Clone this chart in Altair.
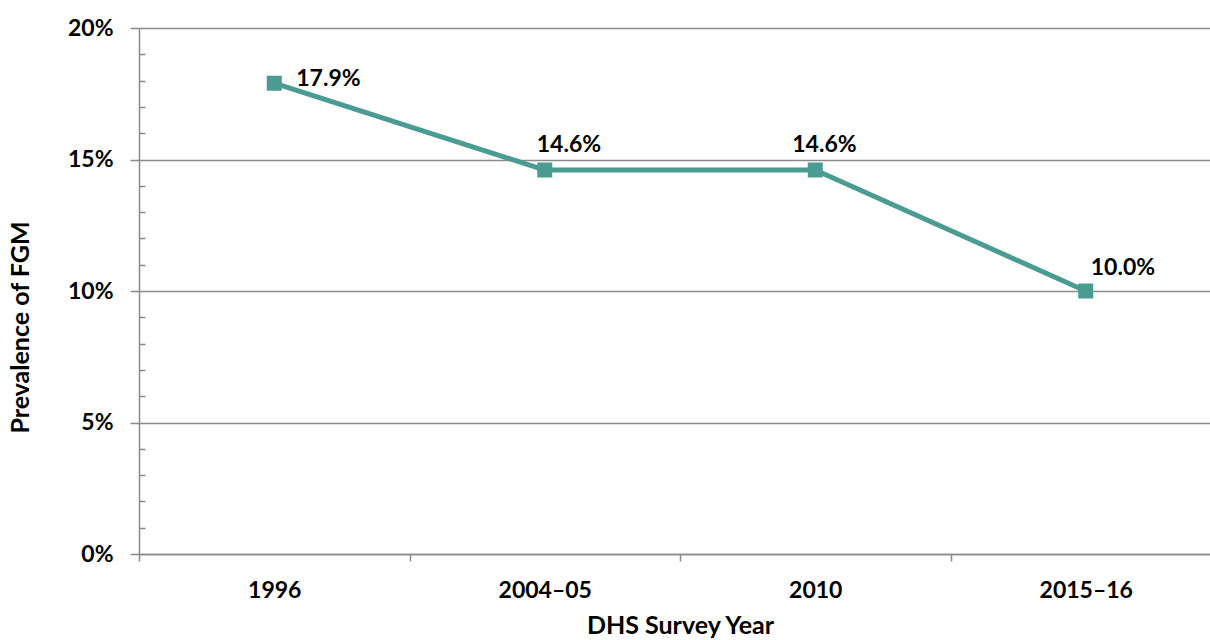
import altair as alt
import pandas as pd

# DHS survey rounds and FGM prevalence
years = ["1996", "2004–05", "2010", "2015–16"]
prevalence = [0.179, 0.146, 0.146, 0.100]
labels = ["17.9%", "14.6%", "14.6%", "10.0%"]

# y axis ticks
major_ticks = [0.0, 0.05, 0.10, 0.15, 0.20]
minor_ticks = [0.01, 0.02, 0.03, 0.04, 0.06, 0.07, 0.08, 0.09,
               0.11, 0.12, 0.13, 0.14, 0.16, 0.17, 0.18, 0.19]

df = pd.DataFrame({"year": years, "value": prevalence, "label": labels})

TEAL = "#4A9B92"
GRAY = "#8A8A8A"
FONT = "Lato"
LABEL_SIZE = 23
TITLE_SIZE = 25

x_enc = alt.X(
    "year:N",
    sort=years,
    scale=alt.Scale(range=[0, 1082], paddingInner=0, paddingOuter=0),
    axis=alt.Axis(
        title="DHS Survey Year",
        labelAngle=0,
        tickBand="extent",
        tickSize=7,
        tickColor=GRAY,
        tickWidth=1.5,
        domainColor=GRAY,
        domainWidth=1.5,
        labelPadding=18,
        labelFont=FONT,
        labelFontSize=LABEL_SIZE,
        labelFontWeight="bold",
        labelColor="black",
        titleFont=FONT,
        titleFontSize=TITLE_SIZE,
        titleFontWeight="bold",
        titleColor="black",
        titleBaseline="alphabetic",
        titleY=79,
        grid=False,
    ),
)

y_scale = alt.Scale(domain=[0, 0.2], nice=False, zero=True)

line = alt.Chart(df).mark_line(color=TEAL, strokeWidth=5).encode(
    x=x_enc,
    y=alt.Y(
        "value:Q",
        scale=y_scale,
        axis=alt.Axis(
            title="Prevalence of FGM",
            values=major_ticks,
            format=".0%",
            tickSize=9,
            tickColor=GRAY,
            tickWidth=1.5,
            domainColor=GRAY,
            domainWidth=1.5,
            gridColor=GRAY,
            gridWidth=1.5,
            grid=True,
            labelPadding=17,
            labelFont=FONT,
            labelFontSize=LABEL_SIZE,
            labelFontWeight="bold",
            labelColor="black",
            titleFont=FONT,
            titleFontSize=TITLE_SIZE,
            titleFontWeight="bold",
            titleColor="black",
            titleAngle=270,
            titleBaseline="alphabetic",
            titleX=-111,
            titleY=299,
        ),
    ),
)

# minor ticks pointing into the plot, drawn by a right-oriented axis moved onto the left edge
points = alt.Chart(df).mark_square(color=TEAL, size=225, opacity=1).encode(
    x=x_enc,
    y=alt.Y(
        "value:Q",
        scale=y_scale,
        axis=alt.Axis(
            orient="right",
            offset=-1071,
            values=minor_ticks,
            labels=False,
            domain=False,
            grid=False,
            tickSize=6,
            tickColor=GRAY,
            tickWidth=1.5,
            title=None,
        ),
    ),
)


def value_label(year, dx, dy):
    return (
        alt.Chart(df)
        .transform_filter(alt.datum.year == year)
        .mark_text(
            align="left",
            baseline="alphabetic",
            dx=dx,
            dy=dy,
            font=FONT,
            fontSize=LABEL_SIZE,
            fontWeight="bold",
            color="black",
        )
        .encode(
            x=x_enc,
            y=alt.Y("value:Q", scale=y_scale, axis=None),
            text="label:N",
        )
    )


texts = [
    value_label("1996", 22, 3),
    value_label("2004–05", -8, -18),
    value_label("2010", -23, -18),
    value_label("2015–16", 5, -16),
]

chart = (
    alt.layer(line, points, *texts)
    .resolve_axis(y="independent")
    .properties(
        width=1071,
        height=526,
        autosize=alt.AutoSizeParams(type="none"),
        padding={"left": 139, "top": 28, "right": 0, "bottom": 86},
    )
    .configure_view(stroke=None)
)

chart.save("out.html", embed_options={"renderer": "svg", "actions": False})
